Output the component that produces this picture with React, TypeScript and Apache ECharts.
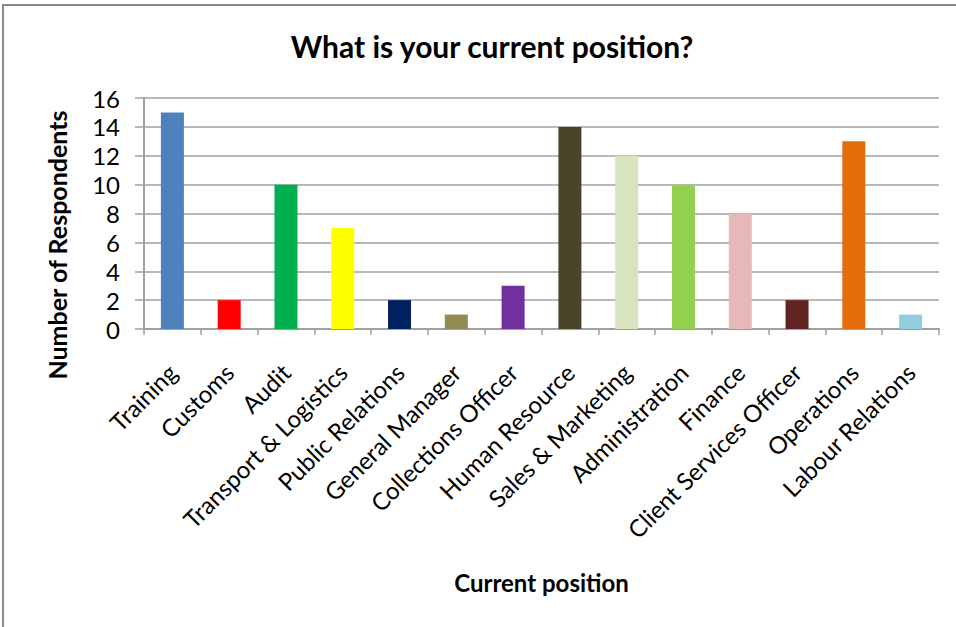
import React, { useEffect, useRef } from "react";
import * as echarts from "echarts";

const categories = [
  "Training",
  "Customs",
  "Audit",
  "Transport & Logistics",
  "Public Relations",
  "General Manager",
  "Collections Officer",
  "Human Resource",
  "Sales & Marketing",
  "Administration",
  "Finance",
  "Client Services Officer",
  "Operations",
  "Labour Relations",
];
const respondents = [15, 2, 10, 7, 2, 1, 3, 14, 12, 10, 8, 2, 13, 1];
const barColors = [
  "#4F81BD",
  "#FF0000",
  "#00B050",
  "#FFFF00",
  "#002060",
  "#948A54",
  "#7030A0",
  "#4A452A",
  "#D7E4BD",
  "#92D050",
  "#E6B9B8",
  "#632523",
  "#E46C0A",
  "#93CDDD",
];
const titleText = "What is your current position?";
const yAxisTitle = "Number of Respondents";
const xAxisTitle = "Current position";

const FONT = "Lato, 'Open Sans', sans-serif";

export default function App() {
  const ref = useRef<HTMLDivElement>(null);
  useEffect(() => {
    document.body.style.margin = "0";
    const chart = echarts.init(ref.current!, null, { renderer: "svg" });
    chart.setOption({
      animation: false,
      backgroundColor: "#fff",
      title: {
        text: titleText,
        left: 487,
        top: 26,
        textAlign: "center",
        textStyle: { fontFamily: FONT, fontWeight: "bold", fontSize: 30, color: "#000" },
      },
      grid: { left: 144, right: 17, top: 98, bottom: 298 },
      xAxis: {
        type: "category",
        data: categories,
        name: xAxisTitle,
        nameLocation: "middle",
        nameGap: 241,
        nameTextStyle: { fontFamily: FONT, fontWeight: "bold", fontSize: 24, color: "#000" },
        axisLine: { lineStyle: { color: "#A0A0A0", width: 2 } },
        axisTick: { show: true, length: 6, lineStyle: { color: "#A0A0A0", width: 1.5 } },
        axisLabel: {
          rotate: 45,
          interval: 0,
          margin: 39,
          fontFamily: FONT,
          fontSize: 24,
          color: "#000",
        },
      },
      yAxis: {
        type: "value",
        min: 0,
        max: 16,
        interval: 2,
        axisLine: { show: true, lineStyle: { color: "#A0A0A0", width: 2 } },
        axisTick: { show: true, length: 9, lineStyle: { color: "#A0A0A0", width: 1.5 } },
        splitLine: { lineStyle: { color: "#A0A0A0", width: 1.5 } },
        axisLabel: { margin: 24, fontFamily: FONT, fontSize: 24, color: "#000" },
      },
      graphic: [
        {
          type: "rect",
          shape: { x: 3, y: 5, width: 970, height: 640 },
          style: { fill: "none", stroke: "#8C8C8C", lineWidth: 2 },
          silent: true,
          z: 100,
        },
        {
          type: "text",
          x: 57,
          y: 245,
          rotation: Math.PI / 2,
          style: {
            text: yAxisTitle,
            fontFamily: FONT,
            fontWeight: "bold",
            fontSize: 25,
            fill: "#000",
            textAlign: "center",
            textVerticalAlign: "middle",
          },
        },
      ],
      series: [
        {
          type: "bar",
          barWidth: 23,
          data: respondents.map((v, i) => ({
            value: v,
            itemStyle: { color: barColors[i] },
          })),
        },
      ],
    });
    return () => chart.dispose();
  }, []);
  return <div ref={ref} style={{ width: 956, height: 627 }} />;
}
